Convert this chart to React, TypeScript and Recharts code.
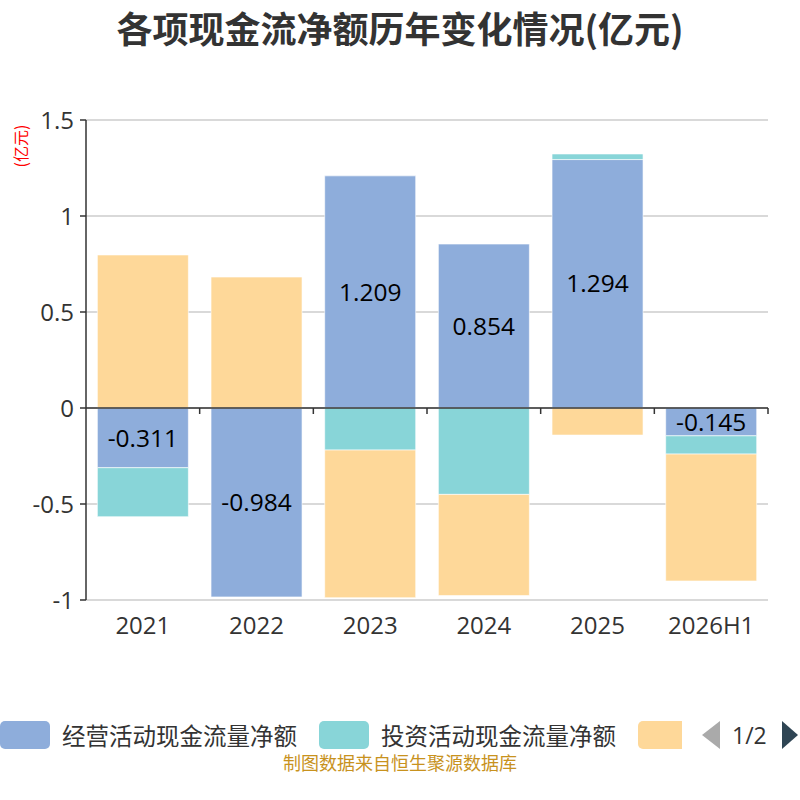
import { BarChart, Bar, XAxis, YAxis, CartesianGrid, ReferenceLine, LabelList } from "recharts"

const years = ["2021", "2022", "2023", "2024", "2025", "2026H1"]
const operating = [-0.311, -0.984, 1.209, 0.854, 1.294, -0.145]
const investing = [-0.255, 0, -0.219, -0.45, 0.029, -0.095]
const financing = [0.797, 0.682, -0.769, -0.527, -0.141, -0.661]
const yTicks = [-1, -0.5, 0, 0.5, 1, 1.5]

const seriesNames = ["经营活动现金流量净额", "投资活动现金流量净额", "筹资活动现金流量净额"]
const colors = ["#8eaddb", "#88d5d8", "#fed899"]

const FONT = '"Open Sans", "Noto Sans CJK SC", sans-serif'
const CJK = '"Noto Sans CJK SC", sans-serif'

const data = years.map((year, i) => ({
  year,
  operating: operating[i],
  investing: investing[i],
  financing: financing[i],
}))

// zero line with little ticks pointing down at the category boundaries
function ZeroAxis(props: any) {
  const { x1, y1, x2, y2 } = props
  const n = years.length
  const step = (x2 - x1) / n
  return (
    <g>
      <line x1={x1} y1={y1} x2={x2} y2={y2} stroke="#333" strokeWidth={1.5} />
      {years.map((_, i) => (
        <line
          key={i}
          x1={x1 + step * (i + 1)}
          x2={x1 + step * (i + 1)}
          y1={y1}
          y2={y1 + 6}
          stroke="#333"
          strokeWidth={1.5}
        />
      ))}
    </g>
  )
}

function LegendRow() {
  return (
    <div style={{ position: "absolute", left: 0, top: 719, width: 800, height: 32 }}>
      <div style={{ position: "absolute", left: 0, top: 0, width: 682, height: 32, overflow: "hidden", whiteSpace: "nowrap" }}>
        {seriesNames.map((name, i) => (
          <span key={name} style={{ display: "inline-flex", alignItems: "center", marginRight: 22, height: 32 }}>
            <span style={{ display: "inline-block", width: 50, height: 28, borderRadius: 5, background: colors[i] }} />
            <span style={{ marginLeft: 12, fontSize: 23.5, color: "#333", lineHeight: "32px", fontFamily: CJK }}>{name}</span>
          </span>
        ))}
      </div>
      <svg style={{ position: "absolute", left: 700, top: 2 }} width={100} height={30}>
        <polygon points="20,0 20,28 2,14" fill="#aaa" />
        <polygon points="82,0 82,28 98,14" fill="#2f4554" />
      </svg>
      <span style={{ position: "absolute", left: 732, top: 0, fontSize: 23, color: "#333", lineHeight: "32px" }}>1/2</span>
    </div>
  )
}

export default function App() {
  return (
    <div style={{ position: "absolute", left: 0, top: 0, width: 800, height: 800, background: "#fff", fontFamily: FONT }}>
      <div style={{ position: "absolute", left: 0, top: 3, width: 800, textAlign: "center", fontSize: 36, lineHeight: "48px", fontWeight: "bold", color: "#333", fontFamily: CJK }}>
        各项现金流净额历年变化情况(亿元)
      </div>
      <div
        style={{
          position: "absolute",
          left: 20,
          top: 146,
          transform: "translate(-50%, -50%) rotate(-90deg)",
          fontSize: 16,
          color: "#ff0000",
          whiteSpace: "nowrap",
          fontFamily: CJK,
        }}
      >
        (亿元)
      </div>
      <div style={{ position: "absolute", left: 0, top: 0 }}>
        <BarChart
          width={800}
          height={650}
          data={data}
          stackOffset="sign"
          barCategoryGap="10%"
          margin={{ top: 120, right: 32, left: 0, bottom: 0 }}
        >
          <CartesianGrid vertical={false} stroke="#ccc" strokeWidth={1.5} />
          <XAxis
            dataKey="year"
            height={50}
            axisLine={false}
            tickLine={false}
            tickMargin={11}
            tick={{ fill: "#333", fontSize: 24, fontFamily: FONT }}
          />
          <YAxis
            width={86}
            domain={[-1, 1.5]}
            ticks={yTicks}
            interval={0}
            allowDataOverflow
            axisLine={{ stroke: "#333", strokeWidth: 1.5 }}
            tickLine={{ stroke: "#333", strokeWidth: 1.5 }}
            tickSize={6}
            tickMargin={6}
            tick={{ fill: "#333", fontSize: 24, fontFamily: FONT }}
          />
          <Bar dataKey="operating" stackId="a" fill={colors[0]} stroke="#fff" strokeWidth={0.6} isAnimationActive={false}>
            <LabelList dataKey="operating" position="center" fill="#000" fontSize={24.5} fontFamily={FONT} />
          </Bar>
          <Bar dataKey="investing" stackId="a" fill={colors[1]} stroke="#fff" strokeWidth={0.6} isAnimationActive={false} />
          <Bar dataKey="financing" stackId="a" fill={colors[2]} stroke="#fff" strokeWidth={0.6} isAnimationActive={false} />
          <ReferenceLine y={0} shape={ZeroAxis} />
        </BarChart>
      </div>
      <LegendRow />
      <div style={{ position: "absolute", left: 0, top: 750, width: 800, textAlign: "center", fontSize: 18, lineHeight: "24px", color: "#c8921e", fontFamily: CJK }}>
        制图数据来自恒生聚源数据库
      </div>
    </div>
  )
}
